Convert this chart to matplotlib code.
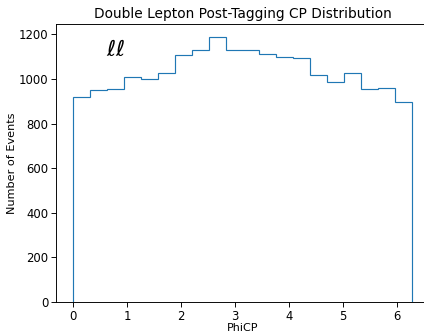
import numpy as np
import matplotlib
matplotlib.use('Agg')
import matplotlib.pyplot as plt

# PhiCP histogram, 20 bins over [0, 2pi]
bin_edges = np.linspace(0, 2 * np.pi, 21)
counts = [919, 949, 955, 1010, 1000, 1025, 1109, 1128, 1187, 1128,
          1128, 1110, 1098, 1095, 1018, 987, 1025, 954, 960, 897]

centers = 0.5 * (bin_edges[:-1] + bin_edges[1:])

dpi = 84
fig = plt.figure(figsize=(424 / dpi, 333 / dpi), dpi=dpi)
ax = fig.add_axes([0.132, 0.093, 0.88, 0.835])
ax.hist(centers, bins=bin_edges, weights=counts, histtype='step', color='#1f77b4', linewidth=1)
ax.set_title('Double Lepton Post-Tagging CP Distribution', fontsize=11.8, pad=5)
ax.set_xlabel('PhiCP', fontsize=9.5, labelpad=0)
ax.set_ylabel('Number of Events', fontsize=9.7, labelpad=1.5)
ax.tick_params(length=4, pad=2.5)
ax.text(0.8, 1130, r'$\ell\ell$', fontsize=19, ha='center', va='center')

fig.savefig('out.png', dpi=dpi)
